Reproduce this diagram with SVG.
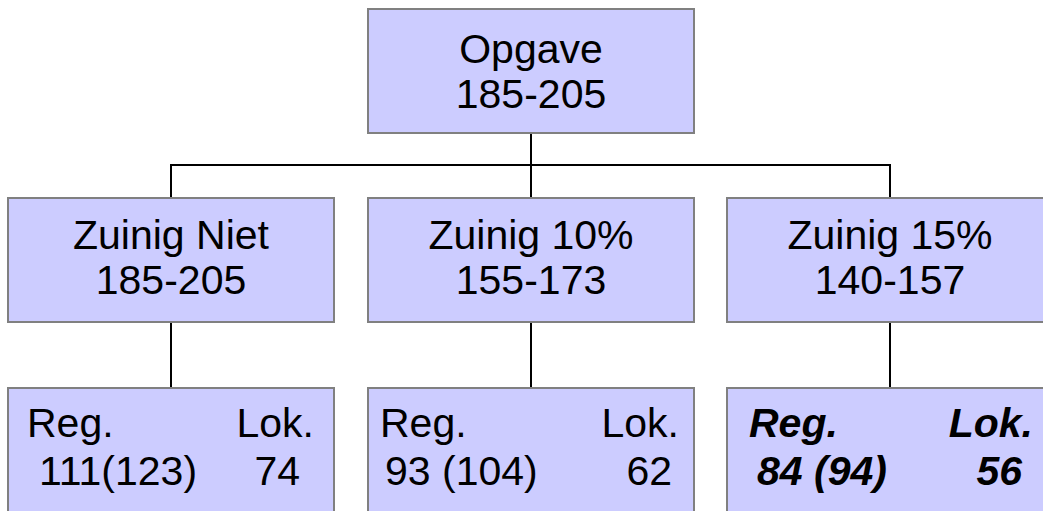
<svg xmlns="http://www.w3.org/2000/svg" width="1043" height="511" viewBox="0 0 1043 511">
  <style>
    .box { fill: #CCCCFF; stroke: #808080; stroke-width: 2; }
    .wire { fill: none; stroke: #000000; stroke-width: 2; }
    text { font-family: "Liberation Sans", Arial, sans-serif; font-size: 41px; fill: #000000; }
    .c { text-anchor: middle; }
    .e { text-anchor: end; }
    .bi { font-weight: bold; font-style: italic; }
  </style>
  <rect x="0" y="0" width="1043" height="511" fill="#ffffff"/>

  <!-- connectors -->
  <g id="connectors">
    <path class="wire" d="M531,133 V198"/>
    <path class="wire" d="M171,198 V165 H890 V198"/>
    <path class="wire" d="M171,322 V388"/>
    <path class="wire" d="M531,322 V388"/>
    <path class="wire" d="M890,322 V388"/>
  </g>

  <!-- root -->
  <g id="opgave">
    <rect class="box" x="368" y="9" width="326" height="124"/>
    <text class="c" x="531" y="63">Opgave</text>
    <text class="c" x="531" y="108">185-205</text>
  </g>

  <!-- second level -->
  <g id="zuinig-niet">
    <rect class="box" x="8" y="198" width="326" height="124"/>
    <text class="c" x="171" y="249">Zuinig Niet</text>
    <text class="c" x="171" y="294">185-205</text>
  </g>
  <g id="zuinig-10">
    <rect class="box" x="368" y="198" width="326" height="124"/>
    <text class="c" x="531" y="249">Zuinig 10%</text>
    <text class="c" x="531" y="294">155-173</text>
  </g>
  <g id="zuinig-15">
    <rect class="box" x="727" y="198" width="326" height="124"/>
    <text class="c" x="890" y="249">Zuinig 15%</text>
    <text class="c" x="890" y="294">140-157</text>
  </g>

  <!-- third level -->
  <g id="niet-verdeling">
    <rect class="box" x="8" y="388" width="326" height="130"/>
    <text x="27" y="437">Reg.</text>
    <text class="e" x="314" y="437">Lok.</text>
    <text x="39" y="485">111(123)</text>
    <text class="e" x="300" y="485">74</text>
  </g>
  <g id="tien-verdeling">
    <rect class="box" x="368" y="388" width="326" height="130"/>
    <text x="380" y="437">Reg.</text>
    <text class="e" x="679" y="437">Lok.</text>
    <text x="385" y="485">93 (104)</text>
    <text class="e" x="672" y="485">62</text>
  </g>
  <g id="vijftien-verdeling">
    <rect class="box" x="727" y="388" width="326" height="130"/>
    <text class="bi" x="749" y="437">Reg.</text>
    <text class="bi e" x="1033" y="437">Lok.</text>
    <text class="bi" x="757" y="485">84 (94)</text>
    <text class="bi e" x="1022" y="485">56</text>
  </g>
</svg>
